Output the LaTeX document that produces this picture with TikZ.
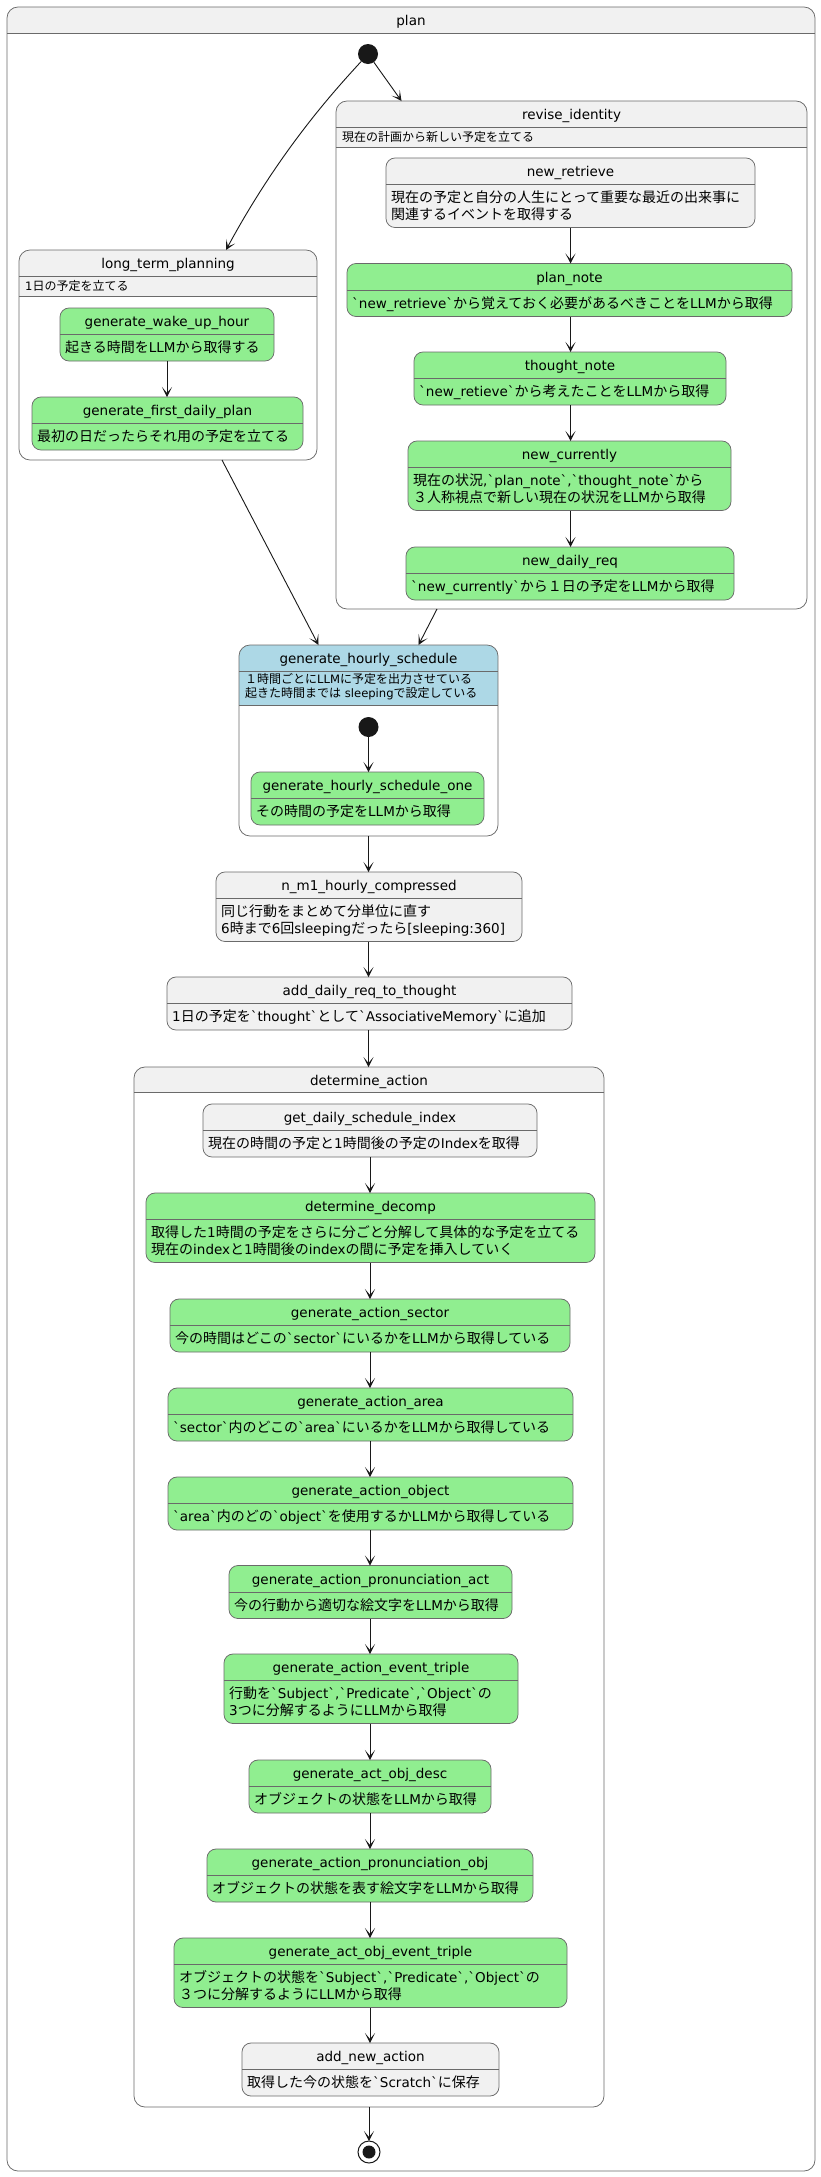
\documentclass[tikz,border=0pt]{standalone}
\usepackage{fontspec}
\usetikzlibrary{arrows.meta}
\newfontfamily\latf{DejaVu Sans}[Scale=0.965]
\newfontfamily\cjkf{Noto Sans CJK JP}
\XeTeXinterchartokenstate=1
\newXeTeXintercharclass\CJKcls
\newcount\mycnt
\def\setcls#1#2{\mycnt=#1\relax\loop\XeTeXcharclass\mycnt=\CJKcls\advance\mycnt by 1\relax\ifnum\mycnt<#2\relax\repeat}
\setcls{"3000}{"3100}
\setcls{"4E00}{"A000}
\setcls{"FF00}{"FFF0}
\XeTeXinterchartoks 0 \CJKcls = {\cjkf}
\XeTeXinterchartoks 4095 \CJKcls = {\cjkf}
\XeTeXinterchartoks \CJKcls 0 = {\latf}
\XeTeXinterchartoks \CJKcls 4095 = {\latf}
\definecolor{gbg}{HTML}{F1F1F1}
\definecolor{grn}{HTML}{90EE90}
\definecolor{blu}{HTML}{ADD8E6}
\definecolor{bdr}{HTML}{6A6A6A}
\definecolor{ink}{HTML}{181818}
\tikzset{
 stbox/.style={draw=bdr,line width=0.75pt,rounded corners=9pt,inner sep=0pt,outer sep=0pt},
 cpbox/.style={draw=bdr,line width=0.75pt,rounded corners=11pt,inner sep=0pt,outer sep=0pt},
 sepl/.style={draw=bdr,line width=0.75pt},
 ttl/.style={font=\latf\fontsize{14}{16}\selectfont,inner sep=0pt,anchor=base,text=black},
 dsc/.style={font=\latf\fontsize{14}{16}\selectfont,inner sep=0pt,anchor=base west,text=black},
 cdsc/.style={font=\latf\fontsize{12}{14}\selectfont,inner sep=0pt,anchor=base west,text=black},
 arr/.style={draw=ink,line width=0.9pt,-{Stealth[length=10pt,width=10pt,inset=6pt]}},
 dot/.style={circle,fill=ink,minimum size=20pt,inner sep=0pt,outer sep=0pt},
}
\newcommand\St[9]{%
 \node[stbox,fill=#2,minimum width={(#5-#3)*1pt},minimum height={(#6-#4)*1pt}] (#1) at ({(#3+#5)/2},{(#4+#6)/2}) {};
 \draw[sepl] (#3,#7) -- (#5,#7);
 \node[ttl] (#1-t) at ({(#3+#5)/2},{(#4+#7)/2+5.5}) {#8};
 \node[dsc] (#1-d) at ({#3+5},{(#7+#6)/2+5}) {#9};}
\newcommand\Stt[9]{%
 \node[stbox,fill=#2,minimum width={(#5-#3)*1pt},minimum height={(#6-#4)*1pt}] (#1) at ({(#3+#5)/2},{(#4+#6)/2}) {};
 \draw[sepl] (#3,#7) -- (#5,#7);
 \node[ttl] (#1-t) at ({(#3+#5)/2},{(#4+#7)/2+5.5}) {#8};
 \twoln{#1}{#3}{(#7+#6)/2}#9\stopln}
\def\twoln#1#2#3#4\\#5\stopln{%
 \node[dsc] (#1-d) at ({#2+5},{#3-3.5}) {#4};
 \node[dsc] (#1-d2) at ({#2+5},{#3+13}) {#5};}
\newcommand\Cp[9]{%
 \begin{scope}
 \clip[rounded corners=11pt] (#3,#4) rectangle (#5,#6);
 \fill[#2] (#3,#4) rectangle (#5,#8);
 \end{scope}
 \node[cpbox,minimum width={(#5-#3)*1pt},minimum height={(#6-#4)*1pt}] (#1) at ({(#3+#5)/2},{(#4+#6)/2}) {};
 \draw[sepl] (#3,#7) -- (#5,#7);
 \draw[sepl] (#3,#8) -- (#5,#8);
 \node[ttl] (#1-t) at ({(#3+#5)/2},{(#4+#7)/2+5.5}) {#9};}
\begin{document}
\begin{tikzpicture}[x=1pt,y=-1pt]
\useasboundingbox[fill=white] (0,0) rectangle (821,2177);
% outer
\Cp{plan}{gbg}{7}{7}{815}{2171}{33}{33}{plan}
\node[dot] (init) at (368,54) {};
% long term planning
\Cp{ltp}{gbg}{19}{250}{317}{460}{276}{296}{long\_term\_planning}
\node[cdsc] (ltp-d) at (25,290) {1日の予定を立てる};
\St{gwuh}{grn}{60}{308}{274}{361}{334.5}{generate\_wake\_up\_hour}{起きる時間をLLMから取得する}
\St{gfdp}{grn}{32}{397}{303}{450}{423.5}{generate\_first\_daily\_plan}{最初の日だったらそれ用の予定を立てる}
% revise identity
\Cp{ri}{gbg}{336}{101}{807}{609}{127}{147}{revise\_identity}
\node[cdsc] (ri-d) at (342,141) {現在の計画から新しい予定を立てる};
\Stt{nr}{gbg}{386}{158}{755}{227.5}{184.5}{new\_retrieve}{現在の予定と自分の人生にとって重要な最近の出来事に\\関連するイベントを取得する}
\St{pn}{grn}{347}{263.5}{792}{316.5}{290}{plan\_note}{`new\_retrieve`から覚えておく必要があるべきことをLLMから取得}
\St{tn}{grn}{414}{352}{726}{405}{378.5}{thought\_note}{`new\_retieve`から考えたことをLLMから取得}
\Stt{nc}{grn}{408}{441}{731}{510.5}{467.5}{new\_currently}{現在の状況,`plan\_note`,`thought\_note`から\\３人称視点で新しい現在の状況をLLMから取得}
\St{ndr}{grn}{406}{547}{734}{600}{573.5}{new\_daily\_req}{`new\_currently`から１日の予定をLLMから取得}
% hourly schedule
\Cp{ghs}{blu}{239}{645}{498}{836}{671.5}{705}{generate\_hourly\_schedule}
\node[cdsc] (ghs-d) at (245,683.5) {１時間ごとにLLMに予定を出力させている};
\node[cdsc] (ghs-d2) at (245,697.5) {起きた時間までは sleepingで設定している};
\node[dot] (ghsinit) at (368.5,727) {};
\St{gho}{grn}{251}{772}{484}{825}{798.5}{generate\_hourly\_schedule\_one}{その時間の予定をLLMから取得}
\Stt{nm1}{gbg}{216}{872}{522}{941.5}{898.5}{n\_m1\_hourly\_compressed}{同じ行動をまとめて分単位に直す\\6時まで6回sleepingだったら[sleeping:360]}
\St{adrt}{gbg}{167}{977}{572}{1030}{1003.5}{add\_daily\_req\_to\_thought}{1日の予定を`thought`として`AssociativeMemory`に追加}
% determine action
\Cp{da}{gbg}{134}{1067}{604}{2107}{1092}{1092}{determine\_action}
\St{gdsi}{gbg}{203}{1104}{537}{1157}{1130.5}{get\_daily\_schedule\_index}{現在の時間の予定と1時間後の予定のIndexを取得}
\Stt{dd}{grn}{146}{1193}{595}{1262.5}{1219.5}{determine\_decomp}{取得した1時間の予定をさらに分ごと分解して具体的な予定を立てる\\現在のindexと1時間後のindexの間に予定を挿入していく}
\St{gas}{grn}{170}{1299}{570}{1352}{1325.5}{generate\_action\_sector}{今の時間はどこの`sector`にいるかをLLMから取得している}
\St{gaa}{grn}{168}{1388}{573}{1441}{1414.5}{generate\_action\_area}{`sector`内のどこの`area`にいるかをLLMから取得している}
\St{gao}{grn}{168}{1477}{573}{1530}{1503.5}{generate\_action\_object}{`area`内のどの`object`を使用するかLLMから取得している}
\St{gapa}{grn}{229}{1565.5}{512}{1618.5}{1592}{generate\_action\_pronunciation\_act}{今の行動から適切な絵文字をLLMから取得}
\Stt{gaet}{grn}{224}{1654}{518}{1723.5}{1680.5}{generate\_action\_event\_triple}{行動を`Subject`,`Predicate`,`Object`の\\3つに分解するようにLLMから取得}
\St{gaod}{grn}{249}{1760}{491}{1813}{1786.5}{generate\_act\_obj\_desc}{オブジェクトの状態をLLMから取得}
\St{gapo}{grn}{207}{1849}{533}{1902}{1875.5}{generate\_action\_pronunciation\_obj}{オブジェクトの状態を表す絵文字をLLMから取得}
\Stt{gaoet}{grn}{174}{1938}{567}{2007.5}{1964.5}{generate\_act\_obj\_event\_triple}{オブジェクトの状態を`Subject`,`Predicate`,`Object`の\\３つに分解するようにLLMから取得}
\St{ana}{gbg}{242}{2043}{499}{2096}{2069.5}{add\_new\_action}{取得した今の状態を`Scratch`に保存}
% final state
\node[circle,draw=ink,fill=white,line width=1pt,minimum size=22pt,inner sep=0pt,outer sep=0pt] (fin) at (369,2152) {};
\node[circle,fill=ink,minimum size=13pt,inner sep=0pt] (fin-in) at (fin.center) {};
% connectors
\draw[arr] (init) .. controls (335,90) and (280,150) .. ([xshift=58pt]ltp.north);
\draw[arr] (init) -- ([xshift=-170pt]ri.north);
\draw[arr] (gwuh.south) -- (gwuh.south |- gfdp.north);
\draw[arr] (nr.south) -- (nr.south |- pn.north);
\draw[arr] (nr.south |- pn.south) -- (nr.south |- tn.north);
\draw[arr] (nr.south |- tn.south) -- (nr.south |- nc.north);
\draw[arr] (nr.south |- nc.south) -- (nr.south |- ndr.north);
\draw[arr] ([xshift=54pt]ltp.south) -- ([xshift=-50pt]ghs.north);
\draw[arr] ([xshift=-134.5pt]ri.south) -- ([xshift=50pt]ghs.north);
\draw[arr] (ghsinit) -- (ghsinit |- gho.north);
\draw[arr] (ghs.south) -- (ghs.south |- nm1.north);
\draw[arr] (ghs.south |- nm1.south) -- (ghs.south |- adrt.north);
\draw[arr] (ghs.south |- adrt.south) -- (ghs.south |- da.north);
\draw[arr] (gdsi.south) -- (gdsi.south |- dd.north);
\draw[arr] (gdsi.south |- dd.south) -- (gdsi.south |- gas.north);
\draw[arr] (gdsi.south |- gas.south) -- (gdsi.south |- gaa.north);
\draw[arr] (gdsi.south |- gaa.south) -- (gdsi.south |- gao.north);
\draw[arr] (gdsi.south |- gao.south) -- (gdsi.south |- gapa.north);
\draw[arr] (gdsi.south |- gapa.south) -- (gdsi.south |- gaet.north);
\draw[arr] (gdsi.south |- gaet.south) -- (gdsi.south |- gaod.north);
\draw[arr] (gdsi.south |- gaod.south) -- (gdsi.south |- gapo.north);
\draw[arr] (gdsi.south |- gapo.south) -- (gdsi.south |- gaoet.north);
\draw[arr] (gdsi.south |- gaoet.south) -- (gdsi.south |- ana.north);
\draw[arr] (da.south) -- (fin);
\end{tikzpicture}
\end{document}
